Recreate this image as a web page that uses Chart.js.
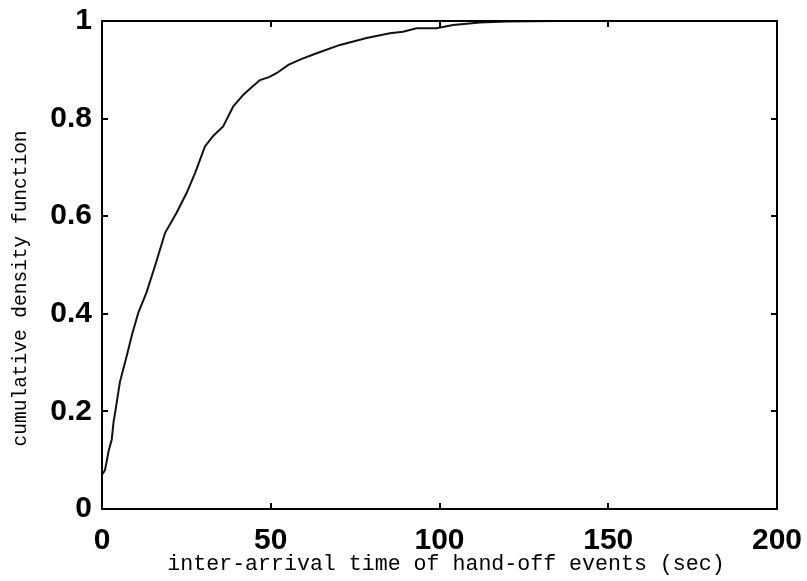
<!DOCTYPE html>
<html>
<head>
<meta charset="utf-8">
<script src="https://cdn.jsdelivr.net/npm/chart.js@4.4.0/dist/chart.umd.min.js"></script>
<style>
  html, body { margin: 0; padding: 0; background: #ffffff; }
  #wrap { width: 807px; height: 581px; }
</style>
</head>
<body>
<div id="wrap"><canvas id="c" width="807" height="581"></canvas></div>
<script>
// inter-arrival time (sec)
const timeSec = [0.2, 0.9, 2.0, 2.9, 3.4, 3.9, 5.3, 7.3, 9.0, 10.8, 13.2, 15.7, 18.7, 22.1, 25.1, 27.6, 30.5, 33.0, 35.9, 38.9, 41.9, 44.0, 46.8, 49.5, 51.7, 55.2, 59.0, 63.6, 70.5, 78.4, 85.3, 89.2, 93.2, 99.1, 104, 112, 120, 135, 150];
// cumulative density function values
const cdfValues = [0.072, 0.08, 0.12, 0.143, 0.177, 0.198, 0.26, 0.313, 0.36, 0.403, 0.444, 0.498, 0.566, 0.607, 0.648, 0.689, 0.743, 0.765, 0.784, 0.825, 0.849, 0.862, 0.879, 0.885, 0.893, 0.910, 0.922, 0.934, 0.951, 0.965, 0.975, 0.978, 0.985, 0.985, 0.992, 0.997, 0.999, 1.0, 1.0];
const xTicks = [0, 50, 100, 150, 200];
const yTicks = [0, 0.2, 0.4, 0.6, 0.8, 1];
const xTitle = ' inter-arrival time of hand-off events (sec)';
const yTitle = 'cumulative density function    ';

const points = timeSec.map((t, i) => ({ x: t, y: cdfValues[i] }));

const boxPlugin = {
  id: 'boxTicks',
  afterDraw(chart) {
    const { ctx, chartArea: a, scales } = chart;
    ctx.save();
    ctx.strokeStyle = '#000';
    ctx.lineWidth = 2;
    ctx.strokeRect(a.left, a.top, a.right - a.left, a.bottom - a.top);
    const L = 6;
    ctx.beginPath();
    xTicks.slice(1, -1).forEach(v => {
      const px = Math.round(scales.x.getPixelForValue(v));
      ctx.moveTo(px, a.bottom); ctx.lineTo(px, a.bottom - L);
      ctx.moveTo(px, a.top); ctx.lineTo(px, a.top + L);
    });
    yTicks.slice(1, -1).forEach(v => {
      const py = Math.round(scales.y.getPixelForValue(v));
      ctx.moveTo(a.left, py); ctx.lineTo(a.left + L, py);
      ctx.moveTo(a.right, py); ctx.lineTo(a.right - L, py);
    });
    ctx.stroke();
    ctx.restore();
  }
};

const fmt = v => String(+Number(v).toFixed(1));

new Chart(document.getElementById('c'), {
  type: 'line',
  data: {
    datasets: [{
      data: points,
      borderColor: '#111',
      borderWidth: 2,
      pointRadius: 0,
      tension: 0,
      fill: false
    }]
  },
  options: {
    responsive: false,
    animation: false,
    layout: { padding: { left: 0, top: 21, right: 30, bottom: 0 } },
    plugins: { legend: { display: false }, tooltip: { enabled: false } },
    scales: {
      x: {
        type: 'linear',
        min: 0, max: 200,
        afterBuildTicks: s => { s.ticks = xTicks.map(v => ({ value: v })); },
        afterFit: s => { s.height = 72; s.paddingLeft = 0; s.paddingRight = 0; },
        grid: { display: false, drawTicks: false },
        border: { display: false },
        ticks: { color: '#000', padding: 14, callback: fmt, font: { family: 'Liberation Sans, Arial, sans-serif', size: 30, weight: 'bold' } },
        title: { display: true, text: xTitle, color: '#000', padding: { top: 0, bottom: 4 }, font: { family: 'Liberation Mono, DejaVu Sans Mono, monospace', size: 21.6 } }
      },
      y: {
        type: 'linear',
        min: 0, max: 1,
        afterBuildTicks: s => { s.ticks = yTicks.map(v => ({ value: v })); },
        afterFit: s => { s.width = 102; s.paddingTop = 0; s.paddingBottom = 0; },
        grid: { display: false, drawTicks: false },
        border: { display: false },
        ticks: { color: '#000', padding: 10, callback: fmt, font: { family: 'Liberation Sans, Arial, sans-serif', size: 30, weight: 'bold' } },
        title: { display: true, text: yTitle, color: '#000', padding: { top: 9, bottom: 0 }, font: { family: 'Liberation Mono, DejaVu Sans Mono, monospace', size: 19.5 } }
      }
    }
  },
  plugins: [boxPlugin]
});
</script>
</body>
</html>
